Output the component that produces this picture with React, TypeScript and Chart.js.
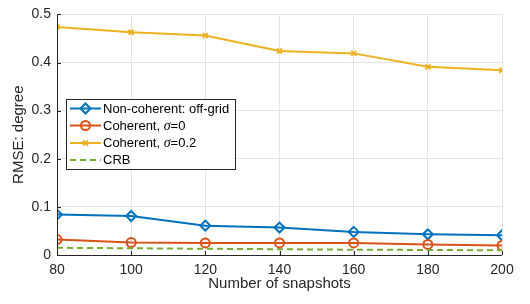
import React, { useEffect, useRef } from "react";
import { Chart, registerables } from "chart.js";
import { drawPoint } from "chart.js/helpers";

Chart.register(...registerables);

const snapshots = [80, 100, 120, 140, 160, 180, 200];
const nonCoherent = [0.084, 0.081, 0.061, 0.057, 0.048, 0.043, 0.041];
const coherent0 = [0.032, 0.026, 0.025, 0.025, 0.025, 0.022, 0.020];
const coherent02 = [0.474, 0.463, 0.456, 0.424, 0.419, 0.391, 0.384];
const crb = [0.015, 0.014, 0.013, 0.012, 0.011, 0.0105, 0.0097];
const yTicks = [0, 0.1, 0.2, 0.3, 0.4, 0.5];
const xTicks = [80, 100, 120, 140, 160, 180, 200];

const FONT = "Liberation Sans, Arial, Helvetica, sans-serif";
const TXT = "#262626";

const pts = (ys: number[]) => snapshots.map((x, i) => ({ x, y: ys[i] }));

const legendItems = [
  { parts: [["Non-coherent: off-grid", false]], color: "#0072BD", style: "rectRot", dash: false, r: 5 },
  { parts: [["Coherent, ", false], ["σ", true], ["=0", false]], color: "#D95319", style: "circle", dash: false, r: 4.5 },
  { parts: [["Coherent, ", false], ["σ", true], ["=0.2", false]], color: "#EDB120", style: "crossRot", dash: false, r: 3.5 },
  { parts: [["CRB", false]], color: "#77AC30", style: null, dash: true, r: 0 },
];

const customPlugin = {
  id: "custom",
  afterDraw(chart: any) {
    const ctx = chart.ctx;
    const ca = chart.chartArea;
    const xs = chart.scales.x;
    const ys = chart.scales.y;
    ctx.save();
    ctx.strokeStyle = TXT;
    ctx.lineWidth = 1;
    ctx.beginPath();
    ctx.moveTo(ca.left + 0.5, ca.top);
    ctx.lineTo(ca.left + 0.5, ca.bottom + 0.5);
    ctx.lineTo(ca.right, ca.bottom + 0.5);
    ctx.stroke();
    ctx.beginPath();
    xTicks.forEach((v) => {
      const px = Math.round(xs.getPixelForValue(v)) + 0.5;
      ctx.moveTo(px, ca.bottom);
      ctx.lineTo(px, ca.bottom - 4);
    });
    yTicks.forEach((v) => {
      const py = Math.round(ys.getPixelForValue(v)) + 0.5;
      ctx.moveTo(ca.left, py);
      ctx.lineTo(ca.left + 4, py);
    });
    ctx.stroke();

    const bx = 66, by = 99, bw = 169, bh = 70;
    ctx.fillStyle = "#ffffff";
    ctx.fillRect(bx, by, bw, bh);
    ctx.strokeStyle = TXT;
    ctx.lineWidth = 1;
    ctx.strokeRect(bx + 0.5, by + 0.5, bw, bh);
    const rows = [108.5, 125.5, 143, 160];
    legendItems.forEach((it, i) => {
      const y = rows[i];
      ctx.save();
      ctx.strokeStyle = it.color;
      ctx.lineWidth = 2;
      if (it.dash) ctx.setLineDash([6, 4]);
      ctx.beginPath();
      ctx.moveTo(70, y);
      ctx.lineTo(101, y);
      ctx.stroke();
      ctx.restore();
      if (it.style) {
        ctx.save();
        ctx.strokeStyle = it.color;
        ctx.fillStyle = "rgba(255,255,255,0)";
        ctx.lineWidth = 2;
        drawPoint(ctx, { pointStyle: it.style, radius: it.r, borderWidth: 2, rotation: 0 } as any, 85.5, y);
        ctx.restore();
      }
      let tx = 103;
      ctx.fillStyle = "#000000";
      ctx.textBaseline = "middle";
      it.parts.forEach(([t, ital]: any) => {
        ctx.font = ital ? "italic 14px 'Liberation Serif', 'Times New Roman', serif" : `13px ${FONT}`;
        ctx.fillText(t, tx, y + 0.5);
        tx += ctx.measureText(t).width;
      });
    });
    ctx.restore();
  },
};

export default function App() {
  const ref = useRef<HTMLCanvasElement | null>(null);
  useEffect(() => {
    if (!ref.current) return;
    const ds = (label: string, data: number[], color: string, style: any, r: number, dash = false) => ({
      label,
      data: pts(data),
      borderColor: color,
      backgroundColor: "rgba(255,255,255,0)",
      borderWidth: 2,
      pointStyle: style,
      pointRadius: r,
      pointBorderWidth: 2,
      pointBorderColor: color,
      pointBackgroundColor: "rgba(255,255,255,0)",
      borderDash: dash ? [6, 4] : [],
      tension: 0,
      fill: false,
    });
    const chart = new Chart(ref.current, {
      type: "line",
      data: {
        datasets: [
          ds("CRB", crb, "#77AC30", false, 0, true),
          ds("Coherent, σ=0.2", coherent02, "#EDB120", "crossRot", 3.5),
          ds("Coherent, σ=0", coherent0, "#D95319", "circle", 4.5),
          ds("Non-coherent: off-grid", nonCoherent, "#0072BD", "rectRot", 5),
        ],
      },
      options: {
        responsive: false,
        animation: false,
        layout: { padding: { top: 13, right: 28, left: 0, bottom: 11 } },
        plugins: { legend: { display: false }, tooltip: { enabled: false } },
        scales: {
          x: {
            type: "linear",
            min: 80,
            max: 200,
            afterBuildTicks: (s: any) => { s.ticks = xTicks.map((v) => ({ value: v })); },
            afterFit: (s: any) => { s.height = 38; },
            grid: { color: "#e3e3e3", drawTicks: false, lineWidth: 1 },
            border: { display: false },
            ticks: { color: TXT, font: { family: FONT, size: 14 }, padding: 7, maxRotation: 0 },
            title: { display: true, text: "Number of snapshots", color: TXT, font: { family: FONT, size: 15 }, padding: { top: 1, bottom: 0 } },
          },
          y: {
            type: "linear",
            min: 0,
            max: 0.5,
            afterBuildTicks: (s: any) => { s.ticks = yTicks.map((v) => ({ value: v })); },
            afterFit: (s: any) => { s.width = 57; },
            grid: { color: "#e3e3e3", drawTicks: false, lineWidth: 1 },
            border: { display: false },
            ticks: { color: TXT, font: { family: FONT, size: 14 }, padding: 6, callback: (v: any) => String(v) },
            title: { display: true, text: "RMSE: degree", color: TXT, font: { family: FONT, size: 15 }, padding: { top: 10, bottom: 2 } },
          },
        },
      },
      plugins: [customPlugin],
    } as any);
    return () => chart.destroy();
  }, []);
  return (
    <div style={{ position: "fixed", left: 0, top: 0, width: 530, height: 304, background: "#fff" }}>
      <canvas ref={ref} width={530} height={304} />
    </div>
  );
}
